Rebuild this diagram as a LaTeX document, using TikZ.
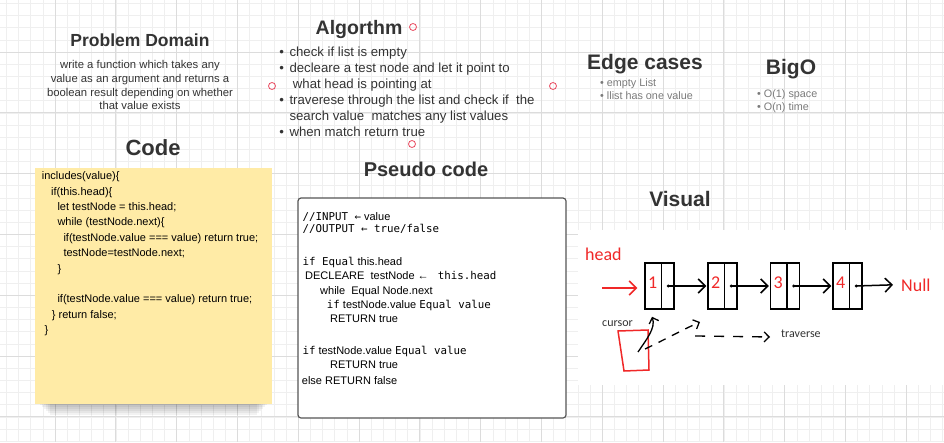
\documentclass[tikz,border=0pt]{standalone}
\usepackage{fontspec}
\setmainfont{Liberation Sans}
\newfontfamily\monofont{DejaVu Sans Mono}
\newfontfamily\handfont{Carlito}
\usepackage{tikz}
\usetikzlibrary{arrows.meta}

\definecolor{inkgray}{HTML}{333333}
\definecolor{softgray}{HTML}{7A7A7A}
\definecolor{gridminor}{HTML}{EFEFEF}
\definecolor{gridmajor}{HTML}{DCDCDC}
\definecolor{notepad}{HTML}{FFEBA6}
\definecolor{handred}{HTML}{E94A5F}
\definecolor{paintred}{HTML}{F02828}
\definecolor{boxgray}{HTML}{555555}

\newcommand{\fsz}[1]{\fontsize{#1}{#1}\selectfont}
\newcommand{\pmono}[1]{{\monofont\fsz{10.8}#1}}

\begin{document}
\begin{tikzpicture}[x=1pt, y=-1pt,
  title/.style={font=\bfseries\fsz{19.5}, text=inkgray, inner sep=0, anchor=base},
  blurb/.style={font=\fsz{11.3}, text=inkgray, inner sep=0, anchor=base},
  bullet/.style={font=\fsz{13.2}, text=inkgray, inner sep=0, anchor=base west},
  note/.style={font=\fsz{10.8}, text=softgray, inner sep=0, anchor=base west},
  codeline/.style={font=\fsz{11}, text=black, inner sep=0, anchor=base west},
  pseudoline/.style={font=\fsz{11}, text=black, inner sep=0, anchor=base west},
  handle/.style={circle, draw=handred, line width=0.8pt, minimum size=7pt, inner sep=0},
  listbox/.style={draw, line width=1.5pt, minimum width=29pt, minimum height=46pt, inner sep=0},
  digit/.style={font=\handfont\fsz{18}, text=paintred, inner sep=0, anchor=base},
  handtext/.style={font=\handfont\fsz{12}, text=inkgray, inner sep=0, anchor=base west},
  barb/.style={-{Straight Barb[length=7pt,width=14pt]}, line width=1.5pt},
  smallbarb/.style={-{Straight Barb[length=5pt,width=10pt]}, line width=1.3pt},
]
  \useasboundingbox (0,0) rectangle (944,442);
  \clip (0,0) rectangle (944,442);

  % grid paper
  \foreach \i in {0,...,77}
    \draw[gridminor, line width=0.6pt] (6.4+12.16*\i,0) -- (6.4+12.16*\i,442);
  \foreach \i in {0,...,36}
    \draw[gridminor, line width=0.6pt] (0,3.36+12.16*\i) -- (944,3.36+12.16*\i);
  \foreach \i in {0,...,15}
    \draw[gridmajor, line width=0.8pt] (-5.8+60.8*\i,0) -- (-5.8+60.8*\i,442);
  \foreach \i in {0,...,7}
    \draw[gridmajor, line width=0.8pt] (0,-8.8+60.8*\i) -- (944,-8.8+60.8*\i);

  % problem domain
  \node[title, font=\bfseries\fsz{17.5}] (pdtitle) at (140,46) {Problem Domain};
  \node[blurb] (pd1) at (140,68) {write a function which takes any};
  \node[blurb] (pd2) at (140,82) {value as an argument and returns a};
  \node[blurb] (pd3) at (140,96) {boolean result depending on whether};
  \node[blurb] (pd4) at (140,109.5) {that value exists};

  % algorithm
  \node[title] (algtitle) at (359,34) {Algorthm};
  \node[handle] (hdtop) at (413,27) {};
  \node[handle] (hdleft) at (272,86) {};
  \node[handle] (hdright) at (553,86) {};
  \node[handle] (hdbottom) at (412,144) {};
  \foreach \yy in {56,72,104,136}
    \node[bullet, anchor=base] at (281.7,\yy) {•};
  \node[bullet] (alg1) at (289.3,56) {check if list is empty};
  \node[bullet] (alg2) at (289.3,72) {decleare a test node and let it point to};
  \node[bullet] (alg3) at (292.7,88) {what head is pointing at};
  \node[bullet] (alg4) at (289.3,104) {traverese through the list and check if~ the};
  \node[bullet] (alg5) at (289.3,120) {search value~ matches any list values};
  \node[bullet] (alg6) at (289.3,136) {when match return true};

  % edge cases and big o
  \node[title, font=\bfseries\fsz{21}] (edgetitle) at (645,69) {Edge cases};
  \node[note] (edge1) at (600,86) {•\hspace{3pt}empty List};
  \node[note] (edge2) at (600,99) {•\hspace{3pt}llist has one value};
  \node[title, font=\bfseries\fsz{21}] (bigtitle) at (791,74) {BigO};
  \node[note] (big1) at (757,97) {•\hspace{3pt}O(1) space};
  \node[note] (big2) at (757,110) {•\hspace{3pt}O(n) time};

  % code sticky note
  \node[title, font=\bfseries\fsz{22}] (codetitle) at (153,155) {Code};
  \foreach \k in {1,...,6}
    \fill[black, opacity=0.05] (38+2*\k,400) rectangle (269-2*\k,403+2*\k);
  \fill[notepad] (35,168) rectangle (272,404);
  \foreach \xx/\yy/\txt [count=\i] in {
      41.7/179/{includes(value)\{},
      51/195/{if(this.head)\{},
      57.3/210/{let testNode = this.head;},
      57.3/225/{while (testNode.next)\{},
      63.3/241/{if(testNode.value === value) return true;},
      63.3/256/{testNode=testNode.next;},
      57.3/272/{\}},
      57.3/302/{if(testNode.value === value) return true;},
      51.7/318/{\} return false;},
      44.3/333/{\}}}
    \node[codeline] (code\i) at (\xx,\yy) {\txt};

  % pseudo code
  \node[title, font=\bfseries\fsz{20}] (pseudotitle) at (426,176) {Pseudo code};
  \draw[boxgray, fill=white, line width=1.2pt, rounded corners=3pt] (298,198) rectangle (566,418);
  \foreach \xx/\yy/\txt [count=\i] in {
      302.3/220.7/{\pmono{//INPUT ←} value},
      302.3/232.7/{\pmono{//OUTPUT ← true/false}},
      302.3/265/{\pmono{if Equal} this.head},
      305/279.3/{DECLEARE~ testNode ← ~ \pmono{this.head}},
      320/294/{while~ Equal Node.next},
      326.7/308/{\pmono{if} testNode.value \pmono{Equal value}},
      330/322.7/{RETURN true},
      302.3/354/{\pmono{if} testNode.value \pmono{Equal value}},
      330/368/{RETURN true},
      301.7/384/{else RETURN false}}
    \node[pseudoline] (pseudo\i) at (\xx,\yy) {\txt};

  % visual
  \node[title, font=\bfseries\fsz{21}] (vistitle) at (680,206) {Visual};
  \fill[white] (578,230) rectangle (944,385);
  \node[listbox] (n1) at (659.5,286) {};
  \node[listbox] (n2) at (722.5,286) {};
  \node[listbox] (n3) at (785,286) {};
  \node[listbox] (n4) at (847.5,286) {};
  \foreach \n in {1,...,4} {
    \draw[line width=1.5pt] ([xshift=17pt]n\n.north west) -- ([xshift=17pt]n\n.south west);
    \node[digit] (v\n) at ([xshift=8.5pt,yshift=-2pt]n\n.west) {\n};
    \coordinate (d\n) at ([xshift=24pt]n\n.west);
    \fill (d\n) circle (1.6);
  }
  \draw[barb] (d1) -- ([xshift=-1pt]n2.west);
  \draw[barb] (d2) -- ([xshift=-1pt]n3.west);
  \draw[barb] (d3) -- ([xshift=-1pt]n4.west);
  \node[digit, anchor=base west] (nullword) at (901,291) {Null};
  \draw[barb] (d4) -- ([xshift=-8pt]nullword.west);

  \node[digit, anchor=base west] (headword) at (585,260) {head};
  \coordinate (headtail) at (602,288);
  \draw[barb, paintred] (headtail) -- ([xshift=-7pt,yshift=-2pt]n1.west);

  \node[handtext] (cursorword) at (602,326) {cursor};
  \draw[paintred, line width=1.5pt] (618,331) -- (648,330) -- (649,370) -- (624,371) -- cycle;
  \coordinate (cursorfoot) at (638,352);
  \draw[smallbarb] (cursorfoot) .. controls (646,340) and (656,328) .. ([xshift=-7.5pt,yshift=-7pt]n1.south);
  \coordinate (stepfoot) at (645,349);
  \coordinate (steptip) at (700,322);
  \draw[smallbarb, dash pattern=on 8pt off 7pt] (stepfoot) .. controls (662,341) and (682,330) .. (steptip);
  \coordinate (walkfoot) at (695,336);
  \node[handtext] (traverseword) at (781,337) {traverse};
  \draw[smallbarb, dash pattern=on 10pt off 9pt] (walkfoot) -- ([xshift=-11pt]traverseword.base west);
\end{tikzpicture}
\end{document}
